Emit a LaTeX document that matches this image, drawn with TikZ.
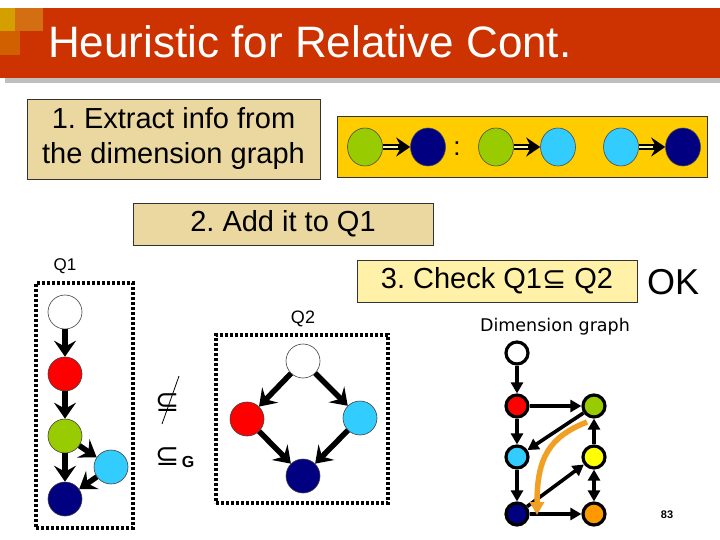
\documentclass[tikz,border=0pt]{standalone}
\usepackage{fontspec}
\setmainfont{Liberation Sans}
\newfontfamily\djv{DejaVu Sans}
\usetikzlibrary{arrows.meta,shapes.geometric}
\definecolor{titlered}{HTML}{CC3300}
\definecolor{goldsq}{HTML}{D4A000}
\definecolor{orsqa}{HTML}{D46E12}
\definecolor{orsqb}{HTML}{D06000}
\definecolor{tanfill}{HTML}{EAD8A0}
\definecolor{palefill}{HTML}{FFF2A8}
\definecolor{yelbox}{HTML}{FFCC00}
\definecolor{qgreen}{HTML}{99CC00}
\definecolor{qblue}{HTML}{000080}
\definecolor{qcyan}{HTML}{33CCFF}
\definecolor{qred}{HTML}{FF0000}
\definecolor{dyellow}{HTML}{FFFF00}
\definecolor{dorange}{HTML}{FF9900}
\definecolor{ocurve}{HTML}{F2A024}
\frenchspacing
\begin{document}
\begin{tikzpicture}[x=1pt,y=-1pt,
  tanbox/.style={draw=black!80, line width=0.8pt, fill=tanfill, inner sep=0pt},
  palebox/.style={draw=black!80, line width=0.8pt, fill=palefill, inner sep=0pt},
  enode/.style={ellipse, minimum width=35pt, minimum height=38pt, inner sep=0pt, draw=black!70, line width=0.6pt},
  qnode/.style={circle, minimum size=34pt, inner sep=0pt, draw=black!75, line width=0.6pt},
  dgnode/.style={circle, minimum size=22pt, inner sep=0pt, draw=black, line width=3.2pt},
  bigarrow/.style={line width=5.5pt, -{Stealth[length=16pt,width=22pt,inset=6pt]}},
  dblarrow/.style={line width=6.5pt, -{Stealth[length=14pt,width=19pt,inset=5pt]}},
  dblinner/.style={line width=2pt, draw=white!60!yellow, shorten >=12pt},
  dgarrow/.style={line width=3.6pt, -{Triangle[length=11pt,width=12pt]}},
  dgboth/.style={line width=3.6pt, {Triangle[length=11pt,width=12pt]}-{Triangle[length=11pt,width=12pt]}},
  dotbox/.style={draw=black, line width=3.2pt, dash pattern=on 3pt off 2pt, inner sep=0pt},
  relsym/.style={font=\djv\fontsize{29}{29}\selectfont, inner sep=0pt}
]
\useasboundingbox (0,0) rectangle (720,540);
% title band
\fill[black!25] (5,78) rectangle (720,83);
\fill[titlered] (0,8) rectangle (720,78);
\fill[goldsq] (0,8) rectangle (15,31);
\fill[orsqa] (15,8) rectangle (43,31);
\fill[orsqb] (0,31) rectangle (20,55);
\node[anchor=base west, text=white, font=\fontsize{44}{44}\selectfont, inner sep=0pt] (title) at (48,58) {Heuristic for Relative Cont.};

% step 1
\node[tanbox, minimum width=293pt, minimum height=80pt, align=center, font=\fontsize{29}{35}\selectfont] (step1) at (173.5,139) {1. Extract info from\\the dimension graph};
\node[draw=black!80, line width=0.8pt, fill=yelbox, minimum width=370pt, minimum height=61pt, inner sep=0pt] (ybox) at (522,147) {};
\node[enode, fill=qgreen] (e1) at (365,147) {};
\node[enode, fill=qblue] (e2) at (428,147) {};
\node[font=\fontsize{26}{26}\selectfont] (colon) at (457,149) {:};
\node[enode, fill=qgreen] (e3) at (496,147) {};
\node[enode, fill=qcyan] (e4) at (558,147) {};
\node[enode, fill=qcyan] (e5) at (621,147) {};
\node[enode, fill=qblue] (e6) at (683,147) {};
\draw[dblarrow] (e1) -- (e2);
\draw[dblinner] (e1) -- (e2);
\draw[dblarrow] (e3) -- (e4);
\draw[dblinner] (e3) -- (e4);
\draw[dblarrow] (e5) -- (e6);
\draw[dblinner] (e5) -- (e6);

% step 2 and 3
\node[tanbox, minimum width=300pt, minimum height=42pt, font=\fontsize{29}{29}\selectfont] (step2) at (283,224) {2. Add it to Q1};
\node[palebox, minimum width=280pt, minimum height=42pt, font=\fontsize{29}{29}\selectfont] (step3) at (497,281) {3. Check Q1{\djv ⊆} Q2};
\node[font=\fontsize{36}{36}\selectfont] (ok) at (673,282) {OK};

% Q1
\node[font=\fontsize{17}{17}\selectfont] (q1lab) at (65,266) {Q1};
\node[dotbox, minimum width=97pt, minimum height=245pt] (q1box) at (84.5,405.5) {};
\node[qnode, fill=white] (a1) at (65,312) {};
\node[qnode, fill=qred] (a2) at (65,374) {};
\node[qnode, fill=qgreen] (a3) at (65,436) {};
\node[qnode, fill=qcyan] (a4) at (111,467) {};
\node[qnode, fill=qblue] (a5) at (65,499) {};
\draw[bigarrow] (a1) -- (a2);
\draw[bigarrow] (a2) -- (a3);
\draw[bigarrow] (a3) -- (a5);
\draw[bigarrow] (a3) -- (a4);
\draw[bigarrow] (a4) -- (a5);

% relation symbols
\node[relsym] (nsub) at (168,403) {⊆};
\coordinate (sla) at (179,376);
\coordinate (slb) at (162,424);
\draw[line width=0.8pt] (sla) -- (slb);
\node[relsym] (subg) at (168,457) {⊆};
\node[font=\fontsize{16}{16}\selectfont\bfseries, inner sep=0pt] (gsub) at (188,462) {G};

% Q2
\node[font=\fontsize{18}{18}\selectfont] (q2lab) at (303,319) {Q2};
\node[dotbox, minimum width=172pt, minimum height=168pt] (q2box) at (302,419) {};
\node[qnode, fill=white] (b1) at (303,361) {};
\node[qnode, fill=qred] (b2) at (247,419) {};
\node[qnode, fill=qcyan] (b3) at (360,418) {};
\node[qnode, fill=qblue] (b4) at (303,476) {};
\draw[bigarrow] (b1) -- (b2);
\draw[bigarrow] (b1) -- (b3);
\draw[bigarrow] (b2) -- (b4);
\draw[bigarrow] (b3) -- (b4);

% dimension graph
\node[font=\djv\fontsize{17.5}{17.5}\selectfont] (dglab) at (555,327) {Dimension graph};
\node[dgnode, fill=white] (dw) at (517,353) {};
\node[dgnode, fill=qred] (dr) at (517,406) {};
\node[dgnode, fill=qgreen] (dg) at (594,406) {};
\node[dgnode, fill=qcyan] (dc) at (517,457) {};
\node[dgnode, fill=dyellow] (dy) at (594,457) {};
\node[dgnode, fill=qblue] (db) at (517,514) {};
\node[dgnode, fill=dorange] (do) at (594,514) {};
\draw[dgarrow] (dw) -- (dr);
\draw[dgarrow] (dr) -- (dg);
\draw[dgarrow] (dr) -- (dc);
\draw[dgarrow] (dg) -- (dc);
\draw[dgarrow] (dc) -- (db);
\draw[dgarrow] (db) -- (dy);
\draw[dgarrow] (db) -- (do);
\draw[dgarrow] (dy) -- (dg);
\draw[dgboth] (dy) -- (do);
\coordinate (os) at (587,422);
\coordinate (oe) at (537,515);
\draw[ocurve, line width=5.5pt, -{Triangle[length=13pt,width=14pt]}] (os) .. controls (549,437) and (537,458) .. (oe);

\node[font=\fontsize{11}{11}\selectfont\bfseries] (pg) at (667,515) {83};
\end{tikzpicture}
\end{document}
